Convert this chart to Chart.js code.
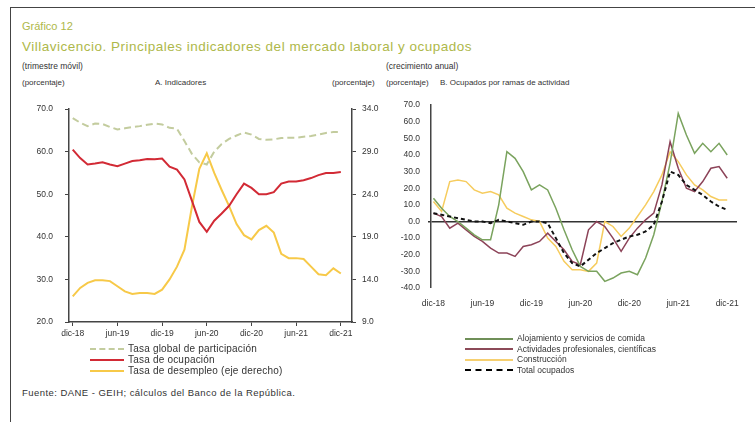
<!DOCTYPE html>
<html><head><meta charset="utf-8">
<script src="https://cdn.jsdelivr.net/npm/chart.js@4"></script>
<style>
html,body{margin:0;padding:0;background:#fff;width:755px;height:422px;overflow:hidden;font-family:"Liberation Sans",Arial,sans-serif;}
#frame{position:absolute;left:10px;top:7px;width:760px;height:430px;border-left:1px solid #444;border-top:1px solid #444;}
.t{position:absolute;white-space:nowrap;line-height:1;}
.cv{position:absolute;}
.lg{position:absolute;color:#333;}
.lg div{white-space:nowrap;}
.sw{display:inline-block;vertical-align:middle;margin-right:4px;}
</style></head><body>
<div id="frame"></div>
<div class="t" style="left:22px;top:21px;font-size:11px;color:#aeb84a;">Gráfico 12</div>
<div class="t" style="left:22px;top:40px;font-size:13.5px;letter-spacing:0.5px;color:#aeb84a;">Villavicencio. Principales indicadores del mercado laboral y ocupados</div>
<div class="t" style="left:22px;top:62px;font-size:8.5px;color:#333;">(trimestre móvil)</div>
<div class="t" style="left:22px;top:79px;font-size:8px;color:#333;">(porcentaje)</div>
<div class="t" style="left:155px;top:79px;font-size:8px;color:#333;">A. Indicadores</div>
<div class="t" style="left:332px;top:79px;font-size:8px;color:#333;">(porcentaje)</div>
<div class="t" style="left:386px;top:62px;font-size:8.5px;color:#333;">(crecimiento anual)</div>
<div class="t" style="left:386px;top:79px;font-size:8px;color:#333;">(porcentaje)</div>
<div class="t" style="left:440px;top:79px;font-size:8px;color:#333;">B. Ocupados por ramas de actividad</div>
<canvas id="c1" class="cv" style="left:20px;top:92px;" width="375" height="252"></canvas>
<canvas id="c2" class="cv" style="left:390px;top:92px;" width="365" height="223"></canvas>
<div class="lg" style="left:90px;top:343px;font-size:10px;letter-spacing:0.2px;">
 <div style="height:11px;line-height:11px;"><span class="sw" style="width:34px;border-top:2px dashed #c3cc9e;"></span>Tasa global de participación</div>
 <div style="height:11px;line-height:11px;"><span class="sw" style="width:34px;border-top:2px solid #d22a35;"></span>Tasa de ocupación</div>
 <div style="height:11px;line-height:11px;"><span class="sw" style="width:34px;border-top:2px solid #f7c948;"></span>Tasa de desempleo (eje derecho)</div>
</div>
<div class="lg" style="left:465px;top:333px;font-size:8.5px;">
 <div style="height:10.5px;line-height:10.5px;"><span class="sw" style="width:48px;border-top:2px solid #6f8f58;"></span>Alojamiento y servicios de comida</div>
 <div style="height:10.5px;line-height:10.5px;"><span class="sw" style="width:48px;border-top:2px solid #8c4a58;"></span>Actividades profesionales, científicas</div>
 <div style="height:10.5px;line-height:10.5px;"><span class="sw" style="width:48px;border-top:2px solid #f6d070;"></span>Construcción</div>
 <div style="height:10.5px;line-height:10.5px;"><span class="sw" style="width:48px;border-top:2px dashed #000;"></span>Total ocupados</div>
</div>
<div class="t" style="left:22px;top:388px;font-size:9.5px;letter-spacing:0.45px;color:#333;">Fuente: DANE - GEIH; cálculos del Banco de la República.</div>
<script>
// ---- data (monthly, dic-18 ... dic-21) ----
const tickLabels = ['dic-18','jun-19','dic-19','jun-20','dic-20','jun-21','dic-21'];
const tickIndex = [0,6,12,18,24,30,36];

const tgp = [67.9,66.8,66.0,66.6,66.5,65.8,65.2,65.5,65.8,66.0,66.3,66.6,66.4,65.6,65.4,62.5,59.5,57.5,57.0,60.0,61.8,63.0,63.8,64.5,64.0,63.0,62.8,62.9,63.2,63.3,63.3,63.5,63.7,64.0,64.4,64.6,64.6];
const tocup = [60.5,58.5,57.0,57.2,57.5,57.0,56.6,57.2,57.8,58.0,58.3,58.2,58.4,56.5,55.8,53.5,48.5,43.5,41.2,43.8,45.5,47.3,50.0,52.5,51.5,50.0,50.0,50.5,52.5,53.0,53.0,53.3,53.8,54.5,55.0,55.0,55.2];
const tdes = [12.0,13.0,13.6,13.9,13.9,13.8,13.2,12.6,12.3,12.4,12.4,12.3,12.8,14.0,15.5,17.5,22.5,27.0,28.8,26.5,24.5,22.6,20.5,19.2,18.7,19.8,20.3,19.5,17.0,16.5,16.5,16.4,15.5,14.6,14.5,15.3,14.7];

const alojamiento = [14,8,3,0,-4,-8,-11,-11,10,42,38,30,19,22,19,8,-5,-17,-27,-30,-30,-36,-34,-31,-30,-32,-22,-8,12,35,65,52,41,47,42,47,40];
const profesionales = [5,3,-4,-1,-5,-9,-12,-16,-19,-19,-21,-15,-14,-12,-7,-12,-17,-24,-26,-5,0,-3,-10,-18,-10,-4,1,5,22,48,32,20,18,24,32,33,26];
const construccion = [12,6,24,25,24,19,17,18,16,8,5,3,1,0,-10,-15,-24,-29,-29,-30,-25,0,-3,-9,-4,3,10,18,28,42,36,28,22,19,15,13,13];
const totalOcup = [5,4,3,2,1,0,0,-1,1,0,-1,-2,0,0,-1,-10,-19,-25,-27,-23,-19,-16,-13,-11,-9,-8,-6,-2,12,30,28,22,19,16,12,9,7];

const pts = a => a.map((v,i)=>({x:i,y:v}));
const font = {family:'"Liberation Sans", Arial, sans-serif', size:8.5};
const lblColor = '#333';
const fixTicks = s => { s.ticks = tickIndex.map(v=>({value:v})); };
const xLabel = v => { const k = tickIndex.indexOf(v); return k>=0 ? tickLabels[k] : ''; };

new Chart(document.getElementById('c1'), {
  type:'line',
  data:{datasets:[
    {data:pts(tocup), borderColor:'#d22a35', borderWidth:2, yAxisID:'y'},
    {data:pts(tgp), borderColor:'#c3cc9e', borderWidth:2, borderDash:[7,4], yAxisID:'y'},
    {data:pts(tdes), borderColor:'#f7c948', borderWidth:2, yAxisID:'y1'}
  ]},
  options:{
    responsive:false, animation:false,
    elements:{point:{radius:0}, line:{tension:0}},
    layout:{padding:{top:9,left:0,right:0,bottom:0}},
    plugins:{legend:{display:false}, tooltip:{enabled:false}},
    scales:{
      x:{type:'linear', min:-0.5, max:37.5, afterBuildTicks:fixTicks,
         afterFit:s=>{s.height=22;},
         border:{display:true,color:'#444',width:1.5},
         grid:{drawOnChartArea:false, tickLength:4, color:'#444'},
         ticks:{font, color:lblColor, padding:3, maxRotation:0, autoSkip:false, callback:xLabel}},
      y:{position:'left', min:20, max:70, afterFit:s=>{s.width=49;},
         border:{display:true,color:'#444',width:1.5},
         grid:{drawOnChartArea:false, tickLength:4, color:'#444'},
         ticks:{font, color:lblColor, stepSize:10, padding:12, callback:v=>v.toFixed(1)}},
      y1:{position:'right', min:9, max:34, afterFit:s=>{s.width=43;},
         border:{display:true,color:'#444',width:1.5},
         grid:{drawOnChartArea:false, tickLength:4, color:'#444'},
         ticks:{font, color:lblColor, stepSize:5, padding:6, callback:v=>v.toFixed(1)}}
    }
  }
});

new Chart(document.getElementById('c2'), {
  type:'line',
  data:{datasets:[
    {data:pts(totalOcup), borderColor:'#111', borderWidth:2, borderDash:[4,3]},
    {data:pts(alojamiento), borderColor:'#7aa35e', borderWidth:1.5},
    {data:pts(profesionales), borderColor:'#8c4358', borderWidth:1.5},
    {data:pts(construccion), borderColor:'#f6cc5e', borderWidth:1.5}
  ]},
  options:{
    responsive:false, animation:false,
    elements:{point:{radius:0}, line:{tension:0}},
    layout:{padding:{top:12,left:0,right:18,bottom:0}},
    plugins:{legend:{display:false}, tooltip:{enabled:false}},
    scales:{
      x:{type:'linear', min:-0.3, max:37.2, afterBuildTicks:fixTicks,
         afterFit:s=>{s.height=27;},
         border:{display:false},
         grid:{display:false},
         ticks:{font, color:lblColor, padding:3, maxRotation:0, autoSkip:false, callback:xLabel}},
      y:{position:'left', min:-40, max:70, afterFit:s=>{s.width=41;},
         border:{display:true,color:'#444',width:1.5},
         grid:{drawOnChartArea:true, drawTicks:true, tickLength:3,
               color:c=> c.tick && c.tick.value===0 ? '#333' : 'rgba(0,0,0,0)',
               lineWidth:c=> c.tick && c.tick.value===0 ? 1.5 : 0},
         ticks:{font, color:lblColor, stepSize:10, padding:8, callback:v=>v.toFixed(1)}}
    }
  }
});
</script>
</body></html>
